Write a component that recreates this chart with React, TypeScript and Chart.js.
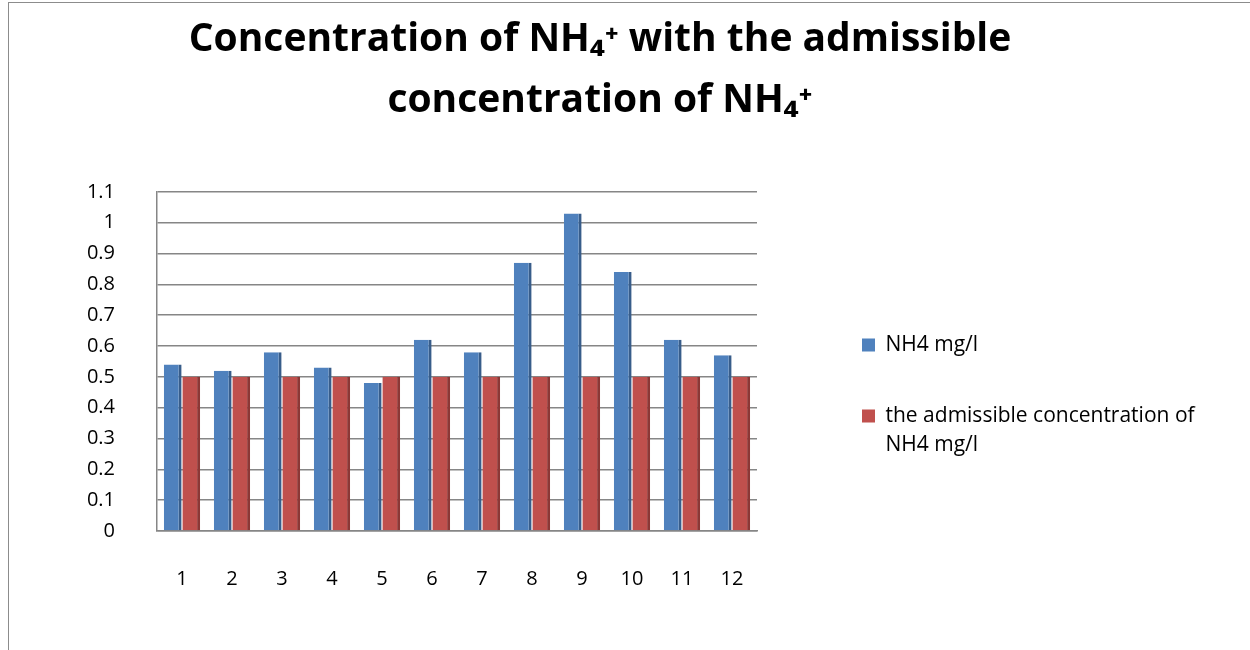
import React, { useEffect, useRef } from "react";
import { Chart, registerables } from "chart.js";

Chart.register(...registerables);

const categories = ["1", "2", "3", "4", "5", "6", "7", "8", "9", "10", "11", "12"];
const nh4Values = [0.54, 0.52, 0.58, 0.53, 0.48, 0.62, 0.58, 0.87, 1.03, 0.84, 0.62, 0.57];
const admissibleValues = [0.5, 0.5, 0.5, 0.5, 0.5, 0.5, 0.5, 0.5, 0.5, 0.5, 0.5, 0.5];
const seriesNames = ["NH4 mg/l", "the admissible concentration of NH4 mg/l"];
const titleLines = ["Concentration of NH\u2084\u207A with the admissible", "concentration of NH\u2084\u207A"];
const yMin = 0;
const yMax = 1.1;
const yStep = 0.1;

const FONT = "'Open Sans', Lato, 'DejaVu Sans', sans-serif";
const LEGEND_WIDTH = 388;
const LEGEND_FIRST_ITEM_OFFSET = 153; // below chart-area top

const legendPlacePlugin = {
  id: "legendPlace",
  beforeLayout(chart: any) {
    const lg = chart.legend;
    if (lg && !lg.__patched) {
      const origFit = lg.fit.bind(lg);
      lg.fit = () => {
        origFit();
        lg.width = LEGEND_WIDTH;
      };
      const origDraw = lg.draw.bind(lg);
      lg.draw = (...args: any[]) => {
        const hb = lg.legendHitBoxes && lg.legendHitBoxes[0];
        const ctx = chart.ctx;
        ctx.save();
        if (hb) {
          const fontSize = 21;
          const currentCenter = hb.top + fontSize / 2;
          const target = chart.chartArea.top + LEGEND_FIRST_ITEM_OFFSET;
          ctx.translate(0, target - currentCenter);
        }
        origDraw(...args);
        ctx.restore();
      };
      lg.__patched = true;
    }
  },
};

export default function App() {
  const ref = useRef<HTMLCanvasElement | null>(null);

  useEffect(() => {
    if (!ref.current) return;
    const chart = new Chart(ref.current, {
      type: "bar",
      data: {
        labels: categories,
        datasets: [
          {
            label: seriesNames[0],
            data: nh4Values,
            backgroundColor: "#4F81BD",
            borderColor: "#385D8A",
            borderWidth: { top: 0, right: 3, bottom: 0, left: 0 },
            borderSkipped: false,
            categoryPercentage: 0.74,
            barPercentage: 0.96,
          },
          {
            label: seriesNames[1],
            data: admissibleValues,
            backgroundColor: "#C0504D",
            borderColor: "#8C3836",
            borderWidth: { top: 0, right: 3, bottom: 0, left: 0 },
            borderSkipped: false,
            categoryPercentage: 0.74,
            barPercentage: 0.96,
          },
        ],
      },
      plugins: [legendPlacePlugin],
      options: {
        animation: false,
        responsive: false,
        maintainAspectRatio: false,
        layout: { padding: { left: 0, right: 50, top: 0, bottom: 31 } },
        plugins: {
          tooltip: { enabled: false },
          title: {
            display: true,
            text: titleLines,
            color: "#000000",
            font: { family: FONT, size: 39, weight: "bold", lineHeight: 1.55 },
            padding: { top: 10, bottom: 61 },
          },
          legend: {
            position: "right",
            align: "center",
            labels: {
              color: "#000000",
              font: { family: FONT, size: 21, lineHeight: 1.4 },
              boxWidth: 13,
              boxHeight: 13,
              padding: 50,
              generateLabels: (chart: any) => {
                const items = Chart.defaults.plugins.legend.labels.generateLabels(chart);
                return items.map((it: any) => {
                  const t = String(it.text);
                  const idx = t.indexOf(" of ");
                  if (t.length > 20 && idx > 0) {
                    it.text = [t.slice(0, idx + 3), t.slice(idx + 4)];
                  }
                  it.lineWidth = 0;
                  return it;
                });
              },
            },
          },
        },
        scales: {
          x: {
            grid: { display: false },
            border: { display: true, color: "#868686", width: 1.5 },
            ticks: {
              color: "#000000",
              font: { family: FONT, size: 20 },
              padding: 28,
              maxRotation: 0,
            },
          },
          y: {
            min: yMin,
            max: yMax,
            ticks: {
              stepSize: yStep,
              color: "#000000",
              font: { family: FONT, size: 20 },
              padding: 42,
              callback: (v: any) => String(Math.round(Number(v) * 10) / 10),
            },
            grid: { color: "#868686", lineWidth: 1.5, drawTicks: false },
            border: { display: true, color: "#868686", width: 1.5 },
            afterFit: (s: any) => {
              s.width = 157;
            },
          },
          gap: {
            position: "right",
            display: true,
            grid: { display: false },
            border: { display: false },
            ticks: { display: false },
            afterFit: (s: any) => {
              s.width = 55;
            },
          },
        },
      } as any,
    });
    return () => chart.destroy();
  }, []);

  return (
    <div style={{ position: "absolute", left: 0, top: 0, width: 1250, height: 650, background: "#ffffff" }}>
      <canvas ref={ref} width={1250} height={650} style={{ position: "absolute", left: 0, top: 0 }} />
      <div
        style={{
          position: "absolute",
          left: 8,
          top: 2,
          width: 1260,
          height: 660,
          borderLeft: "1px solid #8c8c8c",
          borderTop: "1px solid #8c8c8c",
          pointerEvents: "none",
        }}
      />
    </div>
  );
}
